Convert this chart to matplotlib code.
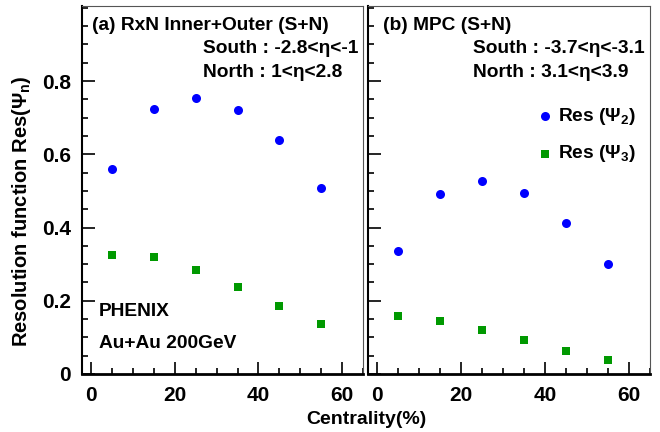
import matplotlib
matplotlib.use('Agg')
from matplotlib import pyplot as plt
from matplotlib.ticker import MultipleLocator

plt.rcParams['font.family'] = ['Liberation Sans', 'DejaVu Sans']
plt.rcParams['font.weight'] = 'bold'
plt.rcParams['mathtext.default'] = 'regular'

# Centrality bin centres (%)
centrality = [5, 15, 25, 35, 45, 55]

# RxN Inner+Outer (S+N)
rxn_res2 = [0.559, 0.723, 0.755, 0.722, 0.639, 0.509]
rxn_res3 = [0.326, 0.320, 0.284, 0.238, 0.186, 0.137]

# MPC (S+N)
mpc_res2 = [0.335, 0.491, 0.527, 0.493, 0.411, 0.300]
mpc_res3 = [0.157, 0.145, 0.120, 0.093, 0.063, 0.038]

blue = '#0000ff'
green = '#009900'
fs = 13.8

fig = plt.figure(figsize=(6.6, 4.32), dpi=100)
ax1 = fig.add_axes([0.1242, 0.1343, 0.4258, 0.8518])
ax2 = fig.add_axes([0.5576, 0.1343, 0.4273, 0.8518], sharey=ax1)

for ax, r2, r3 in [(ax1, rxn_res2, rxn_res3), (ax2, mpc_res2, mpc_res3)]:
    ax.plot(centrality, r2, 'o', color=blue, markersize=6.5, markeredgewidth=0)
    ax.plot(centrality, r3, 's', color=green, markersize=6.3, markeredgewidth=0)
    ax.set_xlim(-2.2, 65)
    ax.set_ylim(0, 1.005)
    ax.xaxis.set_major_locator(MultipleLocator(20))
    ax.xaxis.set_minor_locator(MultipleLocator(5))
    ax.yaxis.set_major_locator(MultipleLocator(0.2))
    ax.yaxis.set_minor_locator(MultipleLocator(0.05))
    ax.tick_params(which='both', direction='in', top=False, right=False,
                   labelsize=15, width=1.2)
    ax.tick_params(which='major', length=9)
    ax.tick_params(which='minor', length=4)
    ax.tick_params(axis='x', pad=9)
    ax.tick_params(axis='y', pad=8)
    for lab in ax.get_xticklabels() + ax.get_yticklabels():
        lab.set_fontweight('bold')
    ax.spines['bottom'].set_linewidth(2)
    ax.spines['left'].set_linewidth(1.5)
    ax.spines['top'].set_color('#555555')
    ax.spines['right'].set_color('#555555')

ax1.set_yticks([0, 0.2, 0.4, 0.6, 0.8])
ax1.set_yticklabels(['0', '0.2', '0.4', '0.6', '0.8'], fontweight='bold')
ax2.tick_params(axis='y', labelleft=False)

# Panel (a) text
ax1.text(0.036, 0.948, '(a) RxN Inner+Outer (S+N)', transform=ax1.transAxes,
         fontsize=fs, fontweight='bold', va='center')
ax1.text(0.431, 0.885, 'South : -2.8<\u03b7<-1', transform=ax1.transAxes,
         fontsize=fs, fontweight='bold', va='center')
ax1.text(0.431, 0.819, 'North : 1<\u03b7<2.8', transform=ax1.transAxes,
         fontsize=fs, fontweight='bold', va='center')
ax1.text(0.06, 0.171, 'PHENIX', transform=ax1.transAxes,
         fontsize=fs, fontweight='bold', va='center')
ax1.text(0.06, 0.083, 'Au+Au 200GeV', transform=ax1.transAxes,
         fontsize=fs, fontweight='bold', va='center')

# Panel (b) text
ax2.text(0.052, 0.948, '(b) MPC (S+N)', transform=ax2.transAxes,
         fontsize=fs, fontweight='bold', va='center')
ax2.text(0.371, 0.885, 'South : -3.7<\u03b7<-3.1', transform=ax2.transAxes,
         fontsize=fs, fontweight='bold', va='center')
ax2.text(0.371, 0.819, 'North : 3.1<\u03b7<3.9', transform=ax2.transAxes,
         fontsize=fs, fontweight='bold', va='center')

# Legend drawn by hand in panel (b)
ax2.plot([0.628], [0.701], 'o', color=blue, markersize=6.5, markeredgewidth=0,
         transform=ax2.transAxes)
ax2.plot([0.628], [0.598], 's', color=green, markersize=6.3, markeredgewidth=0,
         transform=ax2.transAxes)
ax2.text(0.674, 0.701, r'Res ($\Psi_2$)', transform=ax2.transAxes,
         fontsize=fs, fontweight='bold', va='center')
ax2.text(0.674, 0.598, r'Res ($\Psi_3$)', transform=ax2.transAxes,
         fontsize=fs, fontweight='bold', va='center')

fig.text(0.032, 0.51, r'Resolution function Res($\Psi_n$)', rotation=90,
         fontsize=14.5, fontweight='bold', ha='center', va='center')
fig.text(0.555, 0.028, 'Centrality(%)', fontsize=14, fontweight='bold',
         ha='center', va='center')

plt.savefig('out.png', dpi=100)
